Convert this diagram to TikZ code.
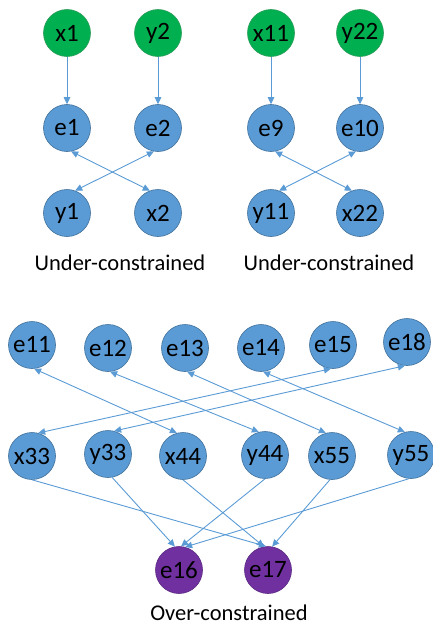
\documentclass[tikz,border=0pt]{standalone}
\usepackage{fontspec}
\setmainfont{Carlito}
\usetikzlibrary{arrows.meta}
\definecolor{gfill}{HTML}{00B050}
\definecolor{gline}{HTML}{2E9C5A}
\definecolor{bfill}{HTML}{5B9BD5}
\definecolor{bline}{HTML}{41719C}
\definecolor{pfill}{HTML}{7030A0}
\definecolor{pline}{HTML}{5B2A82}
\definecolor{edgec}{HTML}{5B9BD5}
\tikzset{
  vnode/.style={circle,minimum size=47pt,inner sep=0pt,line width=0.6pt,font=\fontsize{25}{25}\selectfont,text=black},
  gnode/.style={vnode,fill=gfill,draw=gline},
  bnode/.style={vnode,fill=bfill,draw=bline},
  pnode/.style={vnode,fill=pfill,draw=pline},
  lbl/.style={font=\fontsize{22.5}{22.5}\selectfont,text=black},
  edge/.style={draw=edgec,line width=0.9pt,-{Triangle[length=7pt,width=6.5pt]}},
  dedge/.style={draw=edgec,line width=0.9pt,{Triangle[length=7pt,width=6.5pt]}-{Triangle[length=7pt,width=6.5pt]}}
}
\begin{document}
\begin{tikzpicture}[x=1pt,y=-1pt]
\useasboundingbox (0,0) rectangle (433,626);
% top-left
\node[gnode] (x1) at (67,33) {x1};
\node[gnode] (y2) at (158,33) {y2};
\node[bnode] (e1) at (67,128) {e1};
\node[bnode] (e2) at (158,128) {e2};
\node[bnode] (y1) at (67,213) {y1};
\node[bnode] (x2) at (158,213) {x2};
\node[lbl] (l1) at (120,263) {Under-constrained};
% top-right
\node[gnode] (x11) at (271,33) {x11};
\node[gnode] (y22) at (360,33) {y22};
\node[bnode] (e9) at (271,128) {e9};
\node[bnode] (e10) at (360,128) {e10};
\node[bnode] (y11) at (271,213) {y11};
\node[bnode] (x22) at (360,213) {x22};
\node[lbl] (l2) at (329,263) {Under-constrained};
% bottom
\node[bnode] (e11) at (32,345) {e11};
\node[bnode] (e12) at (108,348) {e12};
\node[bnode] (e13) at (185,348) {e13};
\node[bnode] (e14) at (261,348) {e14};
\node[bnode] (e15) at (333,345) {e15};
\node[bnode] (e18) at (407,342) {e18};
\node[bnode] (x33) at (32,456) {x33};
\node[bnode] (y33) at (108,454) {y33};
\node[bnode] (x44) at (183,456) {x44};
\node[bnode] (y44) at (265,455) {y44};
\node[bnode] (x55) at (332,456) {x55};
\node[bnode] (y55) at (411,455) {y55};
\node[pnode] (e16) at (179,570) {e16};
\node[pnode] (e17) at (268,570) {e17};
\node[lbl] (l3) at (229,613) {Over-constrained};
% edges top
\draw[edge] (x1) -- (e1);
\draw[edge] (y2) -- (e2);
\draw[dedge] (e1.-80) -- (x2.110);
\draw[dedge] (e2.-100) -- (y1.70);
\draw[edge] (x11) -- (e9);
\draw[edge] (y22) -- (e10);
\draw[dedge] (e9.-80) -- (x22.110);
\draw[dedge] (e10.-100) -- (y11.70);
% edges bottom
\draw[dedge] (e11.-85) -- (x44.105);
\draw[dedge] (e12.-85) -- (y44.105);
\draw[dedge] (e13.-85) -- (x55.105);
\draw[dedge] (e14.-85) -- (y55.105);
\draw[dedge] (e15.-95) -- (x33.75);
\draw[dedge] (e18.-95) -- (y33.75);
\draw[edge] (x33.-90) -- (e17.95);
\draw[edge] (y33.-80) -- (e16.100);
\draw[edge] (x44.-90) -- (e17.100);
\draw[edge] (y44.-90) -- (e16.85);
\draw[edge] (x55.-95) -- (e17.80);
\draw[edge] (y55.-95) -- (e16.75);
\end{tikzpicture}
\end{document}
